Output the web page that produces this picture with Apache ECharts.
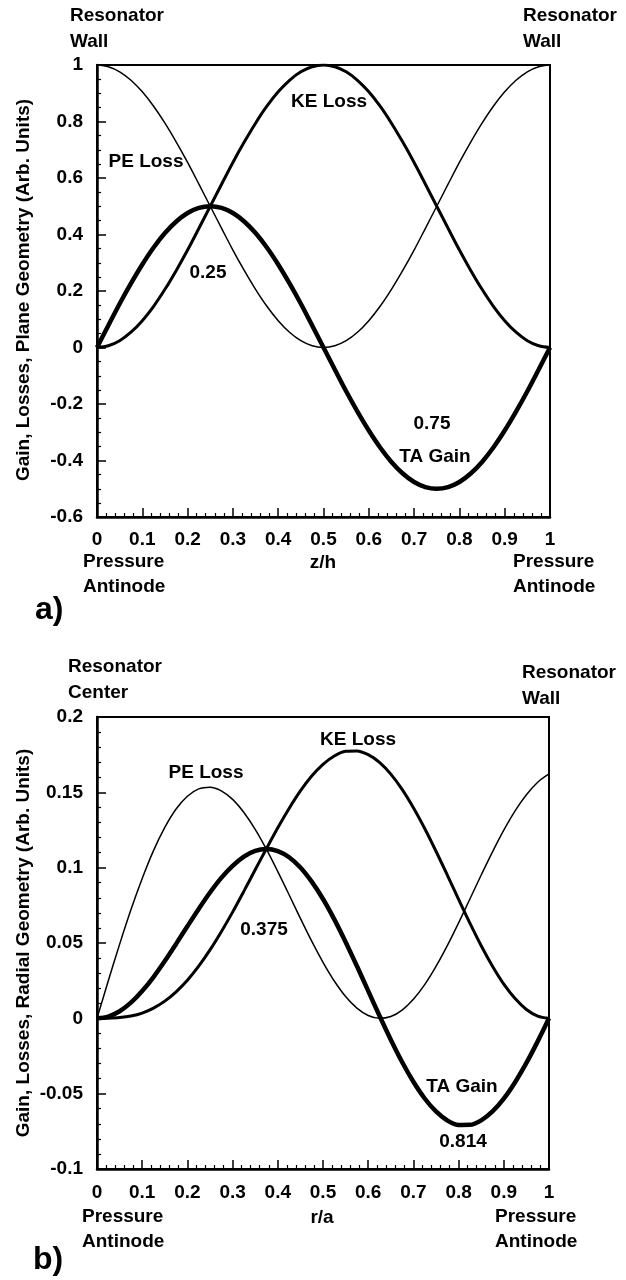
<!DOCTYPE html>
<html>
<head>
<meta charset="utf-8">
<script src="https://cdn.jsdelivr.net/npm/echarts@6/dist/echarts.min.js"></script>
<style>
html,body{margin:0;padding:0;background:#fff;}
#c{width:626px;height:1280px;}
</style>
</head>
<body>
<div id="c"></div>
<script>
// ---- Panel a: plane geometry (x = z/h) ----
const zA  = [0,0.025,0.05,0.075,0.1,0.125,0.15,0.175,0.2,0.225,0.25,0.275,0.3,0.325,0.35,0.375,0.4,0.425,0.45,0.475,0.5,
             0.525,0.55,0.575,0.6,0.625,0.65,0.675,0.7,0.725,0.75,0.775,0.8,0.825,0.85,0.875,0.9,0.925,0.95,0.975,1];
const peA = [1,0.994,0.976,0.946,0.905,0.854,0.794,0.727,0.655,0.578,0.5,0.422,0.345,0.273,0.206,0.146,0.095,0.054,0.024,0.006,0,
             0.006,0.024,0.054,0.095,0.146,0.206,0.273,0.345,0.422,0.5,0.578,0.655,0.727,0.794,0.854,0.905,0.946,0.976,0.994,1];
const keA = [0,0.006,0.024,0.054,0.095,0.146,0.206,0.273,0.345,0.422,0.5,0.578,0.655,0.727,0.794,0.854,0.905,0.946,0.976,0.994,1,
             0.994,0.976,0.946,0.905,0.854,0.794,0.727,0.655,0.578,0.5,0.422,0.345,0.273,0.206,0.146,0.095,0.054,0.024,0.006,0];
const taA = [0,0.078,0.155,0.227,0.294,0.354,0.405,0.446,0.476,0.494,0.5,0.494,0.476,0.446,0.405,0.354,0.294,0.227,0.155,0.078,0,
             -0.078,-0.155,-0.227,-0.294,-0.354,-0.405,-0.446,-0.476,-0.494,-0.5,-0.494,-0.476,-0.446,-0.405,-0.354,-0.294,-0.227,-0.155,-0.078,0];
// ---- Panel b: radial geometry (x = r/a) ----
const rB  = [0,0.025,0.05,0.075,0.1,0.125,0.15,0.175,0.2,0.225,0.25,0.275,0.3,0.325,0.35,0.375,0.4,0.425,0.45,0.475,0.5,
             0.525,0.55,0.575,0.6,0.625,0.65,0.675,0.7,0.725,0.75,0.775,0.8,0.825,0.85,0.875,0.9,0.925,0.95,0.975,1];
const peB = [0,0.0249,0.0491,0.0720,0.0928,0.1113,0.1267,0.1389,0.1474,0.1523,0.1534,0.1510,0.1453,0.1366,0.1254,0.1121,0.0974,0.0820,0.0663,0.0512,0.0372,
             0.0248,0.0145,0.0068,0.0019,0.0000,0.0012,0.0055,0.0127,0.0224,0.0345,0.0483,0.0634,0.0792,0.0951,0.1105,0.1249,0.1377,0.1484,0.1567,0.1622];
const keB = [0,0.0001,0.0005,0.0015,0.0035,0.0068,0.0114,0.0176,0.0253,0.0346,0.0454,0.0575,0.0705,0.0844,0.0986,0.1127,0.1265,0.1393,0.1509,0.1608,0.1686,
             0.1741,0.1772,0.1775,0.1750,0.1699,0.1621,0.1520,0.1398,0.1260,0.1109,0.0951,0.0790,0.0632,0.0482,0.0346,0.0227,0.0131,0.0059,0.0015,0];
const taB = [0,0.0012,0.0047,0.0104,0.0181,0.0274,0.0380,0.0494,0.0611,0.0726,0.0835,0.0932,0.1012,0.1074,0.1112,0.1124,0.1110,0.1069,0.1001,0.0907,0.0792,
             0.0657,0.0507,0.0347,0.0182,0.0017,-0.0142,-0.0290,-0.0421,-0.0532,-0.0618,-0.0678,-0.0708,-0.0707,-0.0677,-0.0618,-0.0533,-0.0424,-0.0296,-0.0153,0];

const FONT = 'Liberation Sans, Arial, Helvetica, sans-serif';
const FS = 19;
const SMOOTH = 0.33;

function pairs(xs, ys){ return xs.map((x,i)=>[x, ys[i]]); }

function xAxisCfg(gi, margin){
  return {
    type:'value', gridIndex:gi, min:0, max:1, interval:0.1,
    axisLine:{show:true, onZero:false, lineStyle:{color:'#000', width:2.5}},
    axisTick:{show:true, inside:true, length:9, lineStyle:{color:'#000', width:1.5}},
    minorTick:{show:true, splitNumber:5, length:4, lineStyle:{color:'#000', width:1.2}},
    splitLine:{show:false}, minorSplitLine:{show:false},
    axisLabel:{show:true, margin:margin, color:'#000', fontSize:FS, fontWeight:'bold', fontFamily:FONT,
      showMinLabel:true, showMaxLabel:true}
  };
}
function yAxisCfg(gi, min, max, interval, split){
  return {
    type:'value', gridIndex:gi, min:min, max:max, interval:interval,
    axisLine:{show:true, onZero:false, lineStyle:{color:'#000', width:2.5}},
    axisTick:{show:true, inside:true, length:9, lineStyle:{color:'#000', width:1.5}},
    minorTick:{show:true, splitNumber:split, length:4, lineStyle:{color:'#000', width:1.2}},
    splitLine:{show:false}, minorSplitLine:{show:false},
    axisLabel:{show:true, margin:14, color:'#000', fontSize:FS, fontWeight:'bold', fontFamily:FONT,
      showMinLabel:true, showMaxLabel:true}
  };
}
function line(gi, data, w, z){
  return {type:'line', xAxisIndex:gi, yAxisIndex:gi, data:data, smooth:SMOOTH, symbol:'none',
    lineStyle:{color:'#000', width:w}, z:z, animation:false};
}
function txt(x, y, s, align, size, rot){
  return {type:'text', x:x, y:y, rotation:rot||0, z:100,
    style:{text:s, fill:'#000', fontSize:size||FS, fontWeight:'bold', fontFamily:FONT,
      align:align||'center', verticalAlign:'middle'}};
}

const chart = echarts.init(document.getElementById('c'), null, {renderer:'canvas'});
chart.setOption({
  animation:false,
  backgroundColor:'#fff',
  grid:[
    {left:97, top:65, width:453, height:452, show:true, borderColor:'#000', borderWidth:2, backgroundColor:'transparent'},
    {left:97, top:717, width:452, height:452, show:true, borderColor:'#000', borderWidth:2, backgroundColor:'transparent'}
  ],
  xAxis:[ xAxisCfg(0, 13), xAxisCfg(1, 14) ],
  yAxis:[ yAxisCfg(0, -0.6, 1, 0.2, 4), yAxisCfg(1, -0.1, 0.2, 0.05, 5) ],
  series:[
    line(0, pairs(zA, peA), 1.5, 3),
    line(0, pairs(zA, keA), 3, 4),
    line(0, pairs(zA, taA), 4.5, 5),
    line(1, pairs(rB, peB), 1.5, 3),
    line(1, pairs(rB, keB), 3, 4),
    line(1, pairs(rB, taB), 4.5, 5)
  ],
  graphic:[
    // panel a
    txt(70, 16, 'Resonator', 'left'),
    txt(70, 42, 'Wall', 'left'),
    txt(523, 16, 'Resonator', 'left'),
    txt(523, 42, 'Wall', 'left'),
    txt(83, 562, 'Pressure', 'left'),
    txt(83, 587, 'Antinode', 'left'),
    txt(513, 562, 'Pressure', 'left'),
    txt(513, 587, 'Antinode', 'left'),
    txt(323, 563, 'z/h', 'center'),
    txt(35, 610, 'a)', 'left', 32),
    txt(329, 102, 'KE Loss'),
    txt(146, 162, 'PE Loss'),
    txt(208, 273, '0.25'),
    txt(432, 424, '0.75'),
    txt(435, 457, 'TA Gain'),
    txt(24, 290, 'Gain, Losses, Plane Geometry (Arb. Units)', 'center', FS, Math.PI/2),
    // panel b
    txt(68, 667, 'Resonator', 'left'),
    txt(68, 693, 'Center', 'left'),
    txt(522, 673, 'Resonator', 'left'),
    txt(522, 699, 'Wall', 'left'),
    txt(82, 1217, 'Pressure', 'left'),
    txt(82, 1242, 'Antinode', 'left'),
    txt(495, 1217, 'Pressure', 'left'),
    txt(495, 1242, 'Antinode', 'left'),
    txt(322, 1218, 'r/a', 'center'),
    txt(33, 1260, 'b)', 'left', 32),
    txt(206, 773, 'PE Loss'),
    txt(358, 740, 'KE Loss'),
    txt(264, 930, '0.375'),
    txt(462, 1087, 'TA Gain'),
    txt(463, 1142, '0.814'),
    txt(24, 943, 'Gain, Losses, Radial Geometry (Arb. Units)', 'center', FS, Math.PI/2)
  ]
});
</script>
</body>
</html>
